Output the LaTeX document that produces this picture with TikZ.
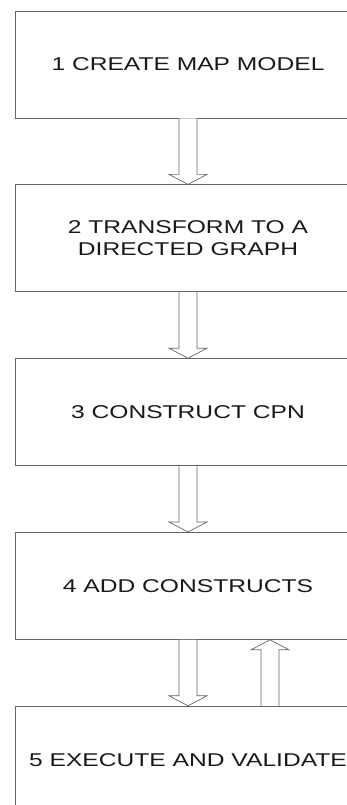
\documentclass[tikz,border=0pt]{standalone}
\usepackage{fontspec}
\newfontfamily\stepfont[FakeStretch=1.33]{Liberation Sans}
\usetikzlibrary{positioning,calc}
\tikzset{
% Boxes of the flow and the hollow block arrows between them
stage box/.style={rectangle,draw=black!60,line width=0.8pt,minimum width=346pt,minimum height=107pt,align=center,text=black!90},
block arrow/.style={draw=black!60,line width=0.7pt,fill=white,line join=miter}
}
% hollow block arrow from #1 to #2
\newcommand{\blockarrow}[2]{%
\coordinate (ab) at ($(#2)!10pt!(#1)$);
\draw[block arrow] ($(#1)!9pt!90:(#2)$) -- ($(ab)!9pt!90:(#2)$) -- ($(ab)!19pt!90:(#2)$) -- (#2)
-- ($(ab)!19pt!-90:(#2)$) -- ($(ab)!9pt!-90:(#2)$) -- ($(#1)!9pt!-90:(#2)$);
}

\begin{document}
\begin{tikzpicture}[font={\stepfont\fontsize{18.5}{22}\selectfont},node distance=66pt]
\useasboundingbox (0,0) rectangle (347pt,-805pt);
\clip (0,0) rectangle (347pt,-805pt);
% The stages
\node(s1)[stage box] at (188pt,-64.5pt){1 CREATE MAP MODEL};
\node(s2)[stage box,below=of s1]{2 TRANSFORM TO A\\DIRECTED GRAPH};
\node(s3)[stage box,below=of s2]{3 CONSTRUCT CPN};
\node(s4)[stage box,below=of s3]{4 ADD CONSTRUCTS};
\node(s5)[stage box,below=of s4]{5 EXECUTE AND VALIDATE};
% arrows down
\blockarrow{s1.south}{s2.north}
\blockarrow{s2.south}{s3.north}
\blockarrow{s3.south}{s4.north}
\blockarrow{s4.south}{s5.north}
% arrow back up
\coordinate (back5) at ($(s5.north)+(82pt,0)$);
\coordinate (back4) at ($(s4.south)+(82pt,0)$);
\blockarrow{back5}{back4}
\end{tikzpicture}
\end{document}
